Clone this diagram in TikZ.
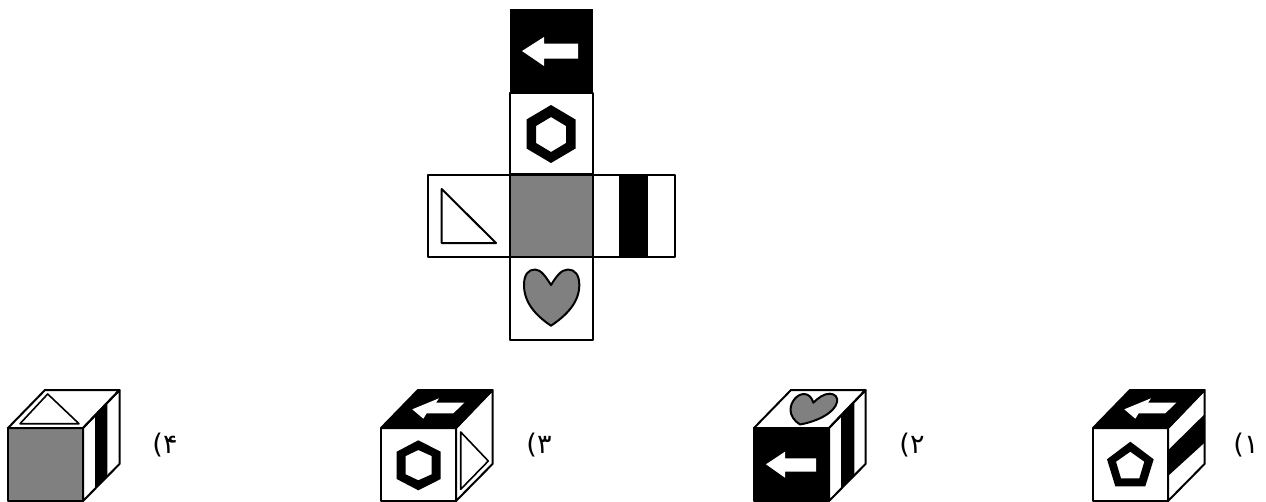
\documentclass[tikz,border=0pt]{standalone}
\usepackage{fontspec}
\newfontfamily\labfont{DejaVu Sans}
\definecolor{midgray}{HTML}{808080}
\tikzset{
  ln/.style={draw=black,line width=2pt,line join=round},
  thinln/.style={draw=black,line width=1.6pt,line join=round},
  wht/.style={fill=white,draw=none},
  lab/.style={font=\fontsize{27}{27}\labfont,inner sep=0pt,anchor=center}
}
\newcommand{\cubeframe}{%
  \draw[ln] (0,38) -- (37,0) -- (111.5,0) -- (75,38) -- cycle;
  \draw[ln] (0,38) rectangle (75,111);
  \draw[ln] (75,38) -- (111.5,0) -- (111.5,74) -- (75,111) -- cycle;
}
\newcommand{\toparrow}{%
  \fill[wht] (31.3,19.3) -- (58,8.3) -- (55,12.7) -- (83.3,12.7) -- (72.3,23.3) -- (45.7,23.3) -- (42.3,28.7) -- cycle;
}
\begin{document}
\begin{tikzpicture}[x=1pt,y=-1pt]
\useasboundingbox (0,0) rectangle (1266,501);
\fill[white] (0,0) rectangle (1266,501);
% net
\fill[black] (509.5,9) rectangle (593,93);
\fill[wht] (522,51) -- (544,37) -- (544,43.5) -- (578,43.5) -- (578,58.5) -- (544,58.5) -- (544,66) -- cycle;
\draw[ln] (510,93) rectangle (592.5,174);
\fill[black,even odd rule] (551,105) -- (575.5,119.5) -- (575.5,148.5) -- (551,163) -- (526.5,148.5) -- (526.5,119.5) -- cycle
  (551,117) -- (566,126) -- (566,143) -- (551,152) -- (536,143) -- (536,126) -- cycle;
\draw[ln] (428,174.5) rectangle (510,257);
\draw[ln] (441.7,189) -- (441.7,243) -- (496,243) -- cycle;
\fill[midgray] (510,174.5) rectangle (592.5,257);
\draw[ln] (510,174.5) rectangle (592.5,257);
\fill[black] (619,174.5) rectangle (648,257);
\draw[ln] (592.5,174.5) rectangle (675,257);
\draw[ln] (510,257) rectangle (592.5,339.5);
\draw[ln,fill=midgray] (551,325.7) .. controls (535,315) and (524,302) .. (524,285)
  .. controls (524,275) and (528,269.5) .. (535,269.5)
  .. controls (541,269.5) and (546,277) .. (551,285)
  .. controls (556,277) and (561,269.5) .. (568,269.5)
  .. controls (575,269.5) and (579.3,275) .. (579.3,285)
  .. controls (579.3,302) and (567,315) .. (551,325.7) -- cycle;
% cube 4
\begin{scope}[shift={(8,390)}]
  \fill[midgray] (0,38) rectangle (75,111);
  \fill[black] (87,25.5) -- (99.3,12.7) -- (99.3,85.7) -- (87,98.5) -- cycle;
  \cubeframe
  \draw[thinln] (39.7,4) -- (71,33.7) -- (12,33.7) -- cycle;
\end{scope}
\node[lab] (l4) at (165,445) {(۴};
% cube 3
\begin{scope}[shift={(381,390)}]
  \fill[black] (0,38) -- (37,0) -- (111.5,0) -- (75,38) -- cycle;
  \toparrow
  \fill[black,even odd rule] (37.3,50.3) -- (59.7,61.7) -- (59.7,89) -- (37.3,100.3) -- (15.7,89) -- (15.7,61.7) -- cycle
    (37.3,60) -- (50.7,66) -- (50.7,84.3) -- (37.3,90.3) -- (24.7,84.3) -- (24.7,66) -- cycle;
  \cubeframe
  \draw[thinln] (79.7,42) -- (107.3,71) -- (79.7,99.3) -- cycle;
\end{scope}
\node[lab] (l3) at (539,445) {(۳};
% cube 2
\begin{scope}[shift={(754,390)}]
  \fill[black] (0,38) rectangle (75,111);
  \fill[wht] (12,74.3) -- (31,61.7) -- (31,68.3) -- (62,68.3) -- (62,81.7) -- (31,81.7) -- (31,87.7) -- cycle;
  \fill[black] (87,25.5) -- (100.3,11.7) -- (100.3,84.7) -- (87,98.5) -- cycle;
  \cubeframe
  \draw[ln,fill=midgray] (46,34.5) .. controls (40,31) and (36.5,25) .. (36.5,20)
    .. controls (36.5,12) and (43,4) .. (50,4)
    .. controls (55,4) and (58,8) .. (59.3,12.7)
    .. controls (64,8) and (70,3.5) .. (76,3.7)
    .. controls (81,4) and (84,7) .. (83,12)
    .. controls (81,22) and (65,31) .. (46,34.5) -- cycle;
\end{scope}
\node[lab] (l2) at (912,445) {(۲};
% cube 1
\begin{scope}[shift={(1093,390)}]
  \fill[black] (0,38) -- (37,0) -- (111.5,0) -- (75,38) -- cycle;
  \toparrow
  \fill[black] (75,60.3) -- (111.5,24.3) -- (111.5,52.7) -- (75,86) -- cycle;
  \fill[black,even odd rule] (37.3,51.7) -- (60.7,69.3) -- (52.3,96.3) -- (22.3,96.3) -- (14,69.3) -- cycle
    (37.3,61.7) -- (51.3,71.7) -- (46.3,88.3) -- (28,88.3) -- (23,71.7) -- cycle;
  \cubeframe
\end{scope}
\node[lab] (l1) at (1246,445) {(۱};
\end{tikzpicture}
\end{document}
